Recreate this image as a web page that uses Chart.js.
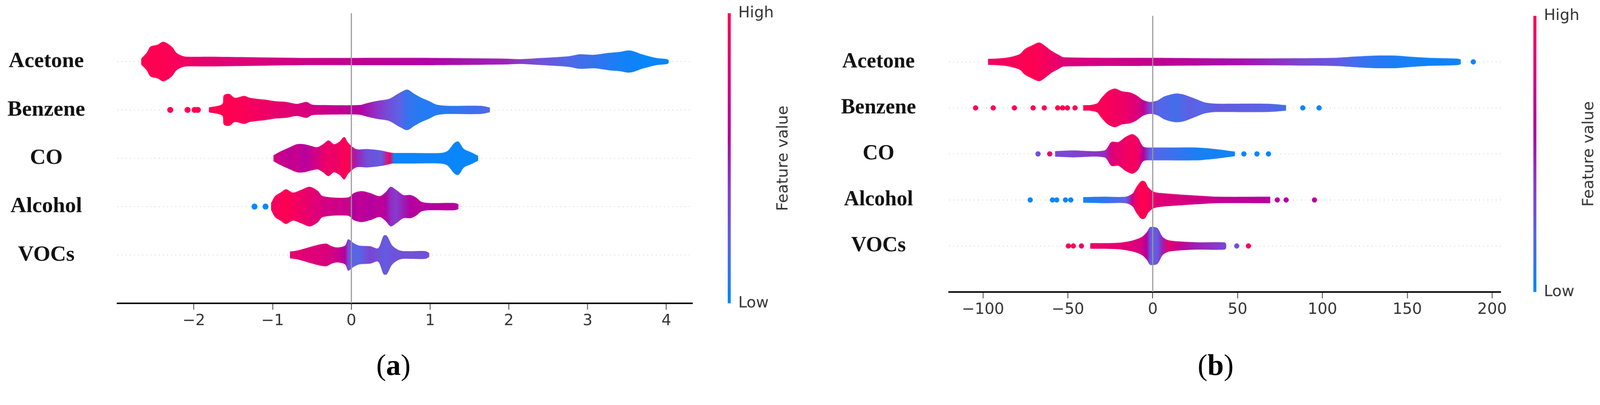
<!DOCTYPE html>
<html>
<head>
<meta charset="utf-8">
<script src="https://cdn.jsdelivr.net/npm/chart.js@4.4.0/dist/chart.umd.min.js"></script>
<style>
  html, body { margin: 0; padding: 0; background: #fff; overflow: hidden; }
  #page { width: 4250px; height: 1036px; position: relative; transform-origin: 0 0; }
  canvas { position: absolute; top: 0; }
  #chartA { left: 0; }
  #chartB { left: 2125px; }
  .cap { position: absolute; top: 930px; font-family: "Liberation Serif", serif; font-size: 78px; line-height: 78px; transform: translateX(-50%); color: #000; }
</style>
</head>
<body>
<div id="page">
<canvas id="chartA" width="2125" height="900"></canvas>
<canvas id="chartB" width="2125" height="900"></canvas>
<div class="cap" style="left:1045px">(<b>a</b>)</div>
<div class="cap" style="left:3229px">(<b>b</b>)</div>
</div>
<script>
// 特徴量の名前（上から順）
const featureNames = ["Acetone", "Benzene", "CO", "Alcohol", "VOCs"];

// x軸の目盛り
const ticksA = [-2, -1, 0, 1, 2, 3, 4];
const ticksB = [-100, -50, 0, 50, 100, 150, 200];

// 帯の形: [SHAP値, 半分の厚み(行単位), 特徴量の値 0=Low 1=High]
// (a)
const acetoneA = [
  [-2.67, 0.06, 1.0], [-2.60, 0.18, 1.0], [-2.55, 0.31, 1.0], [-2.46, 0.35, 1.0],
  [-2.39, 0.41, 1.0], [-2.32, 0.36, 0.98], [-2.27, 0.29, 0.97], [-2.22, 0.18, 0.95],
  [-2.15, 0.12, 0.93], [-2.09, 0.10, 0.9], [-1.81, 0.10, 0.85], [-1.34, 0.09, 0.8],
  [-0.64, 0.075, 0.72], [0.01, 0.075, 0.65], [1.03, 0.075, 0.58], [1.96, 0.06, 0.48],
  [2.15, 0.05, 0.4], [2.38, 0.07, 0.3], [2.76, 0.11, 0.18], [2.90, 0.15, 0.15],
  [3.08, 0.14, 0.12], [3.27, 0.18, 0.08], [3.41, 0.20, 0.05], [3.52, 0.23, 0.04],
  [3.59, 0.21, 0.03], [3.69, 0.15, 0.02], [3.78, 0.11, 0.02], [3.87, 0.075, 0.02],
  [4.01, 0.05, 0.02], [4.03, 0.03, 0.02]
];
const benzeneA = [
  [-1.81, 0.05, 1.0], [-1.64, 0.12, 1.0], [-1.62, 0.30, 1.0], [-1.55, 0.33, 1.0],
  [-1.48, 0.25, 1.0], [-1.36, 0.29, 0.97], [-1.29, 0.25, 0.95], [-1.20, 0.23, 0.92],
  [-1.11, 0.215, 0.9], [-0.97, 0.18, 0.87], [-0.83, 0.165, 0.83], [-0.69, 0.125, 0.8],
  [-0.57, 0.165, 0.77], [-0.50, 0.11, 0.75], [-0.36, 0.10, 0.72], [0.10, 0.10, 0.6],
  [0.20, 0.14, 0.52], [0.34, 0.19, 0.42], [0.48, 0.23, 0.3], [0.62, 0.36, 0.2],
  [0.71, 0.42, 0.12], [0.80, 0.33, 0.1], [0.89, 0.25, 0.08], [0.99, 0.18, 0.08],
  [1.08, 0.11, 0.08], [1.22, 0.085, 0.1], [1.64, 0.085, 0.15], [1.76, 0.05, 0.2]
];
const coA = [
  [-0.99, 0.06, 0.75], [-0.92, 0.125, 0.7], [-0.78, 0.23, 0.65], [-0.69, 0.29, 0.7],
  [-0.60, 0.29, 0.6], [-0.50, 0.25, 0.7], [-0.43, 0.23, 0.75], [-0.36, 0.29, 0.85],
  [-0.29, 0.37, 0.9], [-0.22, 0.29, 0.88], [-0.15, 0.345, 0.92], [-0.09, 0.44, 0.97],
  [-0.04, 0.32, 1.0], [0.06, 0.19, 0.5], [0.20, 0.19, 0.3], [0.38, 0.16, 0.25],
  [0.49, 0.12, 0.95], [0.54, 0.11, 0.03], [0.75, 0.11, 0.03], [1.13, 0.11, 0.03],
  [1.22, 0.15, 0.02], [1.31, 0.32, 0.02], [1.36, 0.345, 0.02], [1.43, 0.19, 0.02],
  [1.52, 0.125, 0.02], [1.61, 0.05, 0.02]
];
const alcoholA = [
  [-1.02, 0.07, 0.9], [-0.97, 0.215, 0.95], [-0.90, 0.29, 0.97], [-0.83, 0.36, 1.0],
  [-0.74, 0.29, 0.95], [-0.64, 0.345, 0.9], [-0.53, 0.41, 0.85], [-0.43, 0.33, 0.8],
  [-0.36, 0.215, 0.75], [-0.04, 0.19, 0.7], [0.03, 0.28, 0.6], [0.13, 0.32, 0.65],
  [0.24, 0.28, 0.6], [0.36, 0.215, 0.65], [0.43, 0.29, 0.6], [0.50, 0.41, 0.45],
  [0.57, 0.345, 0.4], [0.66, 0.24, 0.5], [0.75, 0.24, 0.6], [0.82, 0.19, 0.62],
  [0.89, 0.10, 0.62], [0.99, 0.075, 0.6], [1.31, 0.075, 0.62], [1.36, 0.05, 0.62]
];
const vocsA = [
  [-0.78, 0.07, 0.85], [-0.69, 0.09, 0.85], [-0.60, 0.13, 0.82], [-0.46, 0.195, 0.8],
  [-0.32, 0.235, 0.78], [-0.25, 0.18, 0.75], [-0.18, 0.155, 0.7], [-0.08, 0.195, 0.6],
  [-0.04, 0.325, 0.3], [0.03, 0.245, 0.2], [0.10, 0.195, 0.2], [0.24, 0.18, 0.35],
  [0.34, 0.14, 0.3], [0.41, 0.40, 0.25], [0.45, 0.40, 0.25], [0.52, 0.195, 0.28],
  [0.62, 0.09, 0.3], [0.75, 0.08, 0.3], [0.94, 0.08, 0.3], [0.99, 0.04, 0.3]
];
// 離れた点: [SHAP値, 特徴量の値]
const acetoneDotsA = [];
const benzeneDotsA = [[-2.30, 1.0], [-2.08, 1.0], [-1.99, 1.0], [-1.95, 1.0]];
const coDotsA = [];
const alcoholDotsA = [[-1.23, 0.0], [-1.09, 0.0]];
const vocsDotsA = [];

// (b)
const acetoneB = [
  [-97.1, 0.065, 0.9], [-90.9, 0.075, 0.92], [-84.7, 0.10, 0.95], [-78.4, 0.17, 0.97],
  [-75.3, 0.28, 1.0], [-71.1, 0.36, 1.0], [-67.0, 0.42, 0.98], [-63.9, 0.36, 0.95],
  [-59.7, 0.24, 0.9], [-55.5, 0.155, 0.85], [-52.4, 0.10, 0.8], [2.7, 0.087, 0.65],
  [50, 0.075, 0.55], [88.0, 0.08, 0.35], [108.8, 0.09, 0.25], [119.2, 0.115, 0.15],
  [129.6, 0.135, 0.1], [144.1, 0.135, 0.06], [150.4, 0.115, 0.05], [162.9, 0.087, 0.04],
  [179.5, 0.07, 0.03], [181.6, 0.05, 0.03]
];
const benzeneB = [
  [-41.0, 0.06, 0.98], [-36.8, 0.063, 0.97], [-32.7, 0.10, 0.97], [-30.6, 0.20, 0.97],
  [-26.4, 0.36, 0.96], [-22.3, 0.42, 0.93], [-18.1, 0.36, 0.9], [-13.9, 0.34, 0.85],
  [-9.8, 0.28, 0.8], [-5.6, 0.17, 0.65], [-1.5, 0.13, 0.35], [2.7, 0.16, 0.2],
  [6.9, 0.25, 0.18], [13.1, 0.31, 0.15], [17.3, 0.30, 0.18], [21.4, 0.25, 0.22],
  [25.6, 0.19, 0.2], [29.7, 0.13, 0.2], [33.9, 0.10, 0.22], [38.1, 0.09, 0.25],
  [67.2, 0.09, 0.2], [78.6, 0.06, 0.15]
];
const coB = [
  [-57.6, 0.06, 0.35], [-47.2, 0.075, 0.35], [-28.5, 0.075, 0.45], [-24.3, 0.26, 0.8],
  [-20.2, 0.26, 0.85], [-16.0, 0.37, 0.9], [-11.9, 0.43, 0.95], [-8.7, 0.35, 0.9],
  [-5.6, 0.16, 0.6], [-1.5, 0.14, 0.2], [25.6, 0.14, 0.06], [29.7, 0.13, 0.05],
  [38.1, 0.10, 0.04], [46.4, 0.06, 0.04], [48.5, 0.05, 0.04]
];
const alcoholB = [
  [-41.0, 0.06, 0.05], [-28.5, 0.07, 0.1], [-16.0, 0.07, 0.2], [-11.9, 0.14, 0.7],
  [-9.8, 0.27, 0.95], [-6.7, 0.41, 1.0], [-4.6, 0.40, 1.0], [-2.5, 0.27, 0.95],
  [0.6, 0.18, 0.85], [4.8, 0.15, 0.8], [15.2, 0.12, 0.78], [25.6, 0.095, 0.72],
  [38.1, 0.07, 0.68], [69.3, 0.07, 0.62]
];
const vocsB = [
  [-36.8, 0.06, 0.9], [-20.2, 0.07, 0.85], [-11.9, 0.12, 0.8], [-6.7, 0.19, 0.75],
  [-3.5, 0.30, 0.6], [-1.5, 0.41, 0.25], [2.7, 0.39, 0.25], [5.8, 0.20, 0.5],
  [8.9, 0.13, 0.85], [15.2, 0.10, 0.7], [25.6, 0.08, 0.5], [42.2, 0.08, 0.35],
  [43.3, 0.05, 0.35]
];
const acetoneDotsB = [[188.9, 0.02]];
const benzeneDotsB = [[-104.4, 1], [-94.0, 1], [-81.5, 1], [-70.5, 1], [-63.9, 1],
  [-56.0, 1], [-53.1, 1], [-50.3, 1], [-45.8, 1], [88.4, 0.02], [98.0, 0.02]];
const coDotsB = [[-67.6, 0.3], [-60.7, 0.85], [53.7, 0.02], [61.4, 0.02], [68.2, 0.02]];
const alcoholDotsB = [[-72.2, 0.02], [-59.1, 0.02], [-56.6, 0.02], [-51.4, 0.02],
  [-48.3, 0.02], [73.4, 0.6], [78.6, 0.6], [95.3, 0.62]];
const vocsDotsB = [[-49.7, 1], [-46.8, 1], [-42.0, 0.9], [49.5, 0.3], [56.4, 1]];

// カラーマップ (Low=青 → High=赤)
const cmapStops = [
  [0, [0, 138, 251]], [0.2, [90, 100, 230]], [0.4, [135, 60, 205]],
  [0.6, [180, 0, 160]], [0.8, [222, 0, 120]], [1, [255, 0, 82]]
];
function cmap(c) {
  for (let i = 1; i < cmapStops.length; i++) {
    if (c <= cmapStops[i][0]) {
      const a = cmapStops[i - 1], b = cmapStops[i];
      const t = (c - a[0]) / (b[0] - a[0]);
      const rgb = a[1].map((v, k) => Math.round(v + (b[1][k] - v) * t));
      return "rgb(" + rgb.join(",") + ")";
    }
  }
  return "rgb(255,0,82)";
}

// ウィンドウが小さい時はページ全体を縮める
const fit = Math.min(1, window.innerWidth / 4250, window.innerHeight / 1036);
document.getElementById("page").style.transform = "scale(" + fit + ")";

// 帯のグラデーション
function bandGradient(chart, band) {
  const sx = chart.scales.x;
  if (!sx || !chart.chartArea) return cmap(band[0][2]);
  const p0 = sx.getPixelForValue(band[0][0]);
  const p1 = sx.getPixelForValue(band[band.length - 1][0]);
  const g = chart.ctx.createLinearGradient(p0, 0, p1, 0);
  band.forEach(p => {
    const t = (sx.getPixelForValue(p[0]) - p0) / (p1 - p0);
    g.addColorStop(Math.min(1, Math.max(0, t)), cmap(p[2]));
  });
  return g;
}

function buildDatasets(bands, dots, xMin, xMax, dotR) {
  const sets = [];
  const n = bands.length;
  bands.forEach((band, i) => {
    const y = n - 1 - i;
    sets.push({
      data: [{ x: xMin, y: y }, { x: xMax, y: y }],
      borderColor: "#cccccc", borderWidth: 2, borderDash: [2, 9],
      pointRadius: 0, fill: false, order: 10
    });
    sets.push({
      data: band.map(p => ({ x: p[0], y: y + p[1] })),
      borderColor: "rgba(0,0,0,0)", borderWidth: 0, pointRadius: 0,
      tension: 0.3, fill: false, order: 5
    });
    sets.push({
      data: band.map(p => ({ x: p[0], y: y - p[1] })),
      borderColor: "rgba(0,0,0,0)", borderWidth: 0, pointRadius: 0,
      tension: 0.3, fill: "-1", order: 5,
      backgroundColor: ctx => bandGradient(ctx.chart, band)
    });
    if (dots[i].length) {
      sets.push({
        data: dots[i].map(d => ({ x: d[0], y: y, c: d[1] })),
        showLine: false, pointRadius: dotR, pointBorderWidth: 0, fill: false,
        pointBackgroundColor: ctx => cmap(ctx.raw ? ctx.raw.c : 0),
        order: 4
      });
    }
  });
  // 0 の縦線
  sets.push({
    data: [{ x: 0, y: -1 }, { x: 0, y: n }],
    borderColor: "#999999", borderWidth: 3, pointRadius: 0, fill: false, order: 0
  });
  return sets;
}

// カラーバー
const colorbarPlugin = {
  id: "colorbar",
  afterDraw(chart, args, opts) {
    const { ctx, chartArea } = chart;
    const x = chartArea.right + opts.offset;
    const top = chartArea.top, bottom = chartArea.bottom;
    const g = ctx.createLinearGradient(0, bottom, 0, top);
    cmapStops.forEach(s => g.addColorStop(s[0], "rgb(" + s[1].join(",") + ")"));
    ctx.save();
    ctx.fillStyle = g;
    ctx.fillRect(x, top, 8, bottom - top);
    ctx.font = '41px "DejaVu Sans"';
    ctx.fillStyle = "#333";
    ctx.textBaseline = "middle";
    ctx.textAlign = "left";
    ctx.fillText("High", x + 28, top);
    ctx.fillText("Low", x + 28, bottom);
    const w = ctx.measureText("High").width;
    ctx.translate(x + 28 + w + 26, (top + bottom) / 2);
    ctx.rotate(-Math.PI / 2);
    ctx.textAlign = "center";
    ctx.fillText("Feature value", 0, 0);
    ctx.restore();
  }
};

function fmtTick(v) {
  return v < 0 ? "\u2212" + Math.abs(v) : String(v);
}

function makeChart(id, p) {
  return new Chart(document.getElementById(id), {
    type: "line",
    data: { datasets: buildDatasets(p.bands, p.dots, p.xMin, p.xMax, p.dotR) },
    options: {
      responsive: false,
      animation: false,
      devicePixelRatio: window.devicePixelRatio || 1,
      layout: { padding: { top: p.top, right: p.right, left: 0, bottom: 0 } },
      plugins: {
        legend: { display: false },
        tooltip: { enabled: false },
        colorbar: { offset: p.cbOffset }
      },
      scales: {
        x: {
          type: "linear", min: p.xMin, max: p.xMax,
          afterBuildTicks: s => { s.ticks = p.ticks.map(v => ({ value: v })); },
          grid: { display: true, drawOnChartArea: false, drawTicks: true, tickLength: 17, tickWidth: 2, tickColor: "#333" },
          border: { display: true, color: "#000", width: 4 },
          ticks: {
            font: { family: "DejaVu Sans", size: 41 }, color: "#333", padding: 6,
            maxRotation: 0, autoSkip: false, callback: v => fmtTick(v)
          },
          afterFit: s => {
            s.height = p.xHeight;
            s.paddingLeft = 0; s.paddingRight = 0;
          }
        },
        y: {
          type: "linear", min: -1, max: featureNames.length,
          afterBuildTicks: s => { s.ticks = featureNames.map((n, i) => ({ value: i })); },
          grid: { display: false, drawTicks: false },
          border: { display: false },
          ticks: {
            crossAlign: "center", padding: p.labelPad,
            font: { family: "Liberation Serif", weight: "bold", size: p.labelSize }, color: "#111",
            callback: v => featureNames[featureNames.length - 1 - v]
          },
          afterFit: s => {
            s.width = p.yWidth;
            s.paddingTop = 0; s.paddingBottom = 0;
          }
        }
      }
    },
    plugins: [colorbarPlugin]
  });
}

makeChart("chartA", {
  bands: [acetoneA, benzeneA, coA, alcoholA, vocsA],
  dots: [acetoneDotsA, benzeneDotsA, coDotsA, alcoholDotsA, vocsDotsA],
  ticks: ticksA, xMin: -2.97, xMax: 4.33, dotR: 8,
  top: 35, right: 286, xHeight: 95, yWidth: 312,
  labelPad: 86, labelSize: 58, cbOffset: 94
});

makeChart("chartB", {
  bands: [acetoneB, benzeneB, coB, alcoholB, vocsB],
  dots: [acetoneDotsB, benzeneDotsB, coDotsB, alcoholDotsB, vocsDotsB],
  ticks: ticksB, xMin: -120, xMax: 205, dotR: 7,
  top: 42, right: 264, xHeight: 125, yWidth: 396,
  labelPad: 88, labelSize: 56, cbOffset: 87
});
</script>
</body>
</html>
